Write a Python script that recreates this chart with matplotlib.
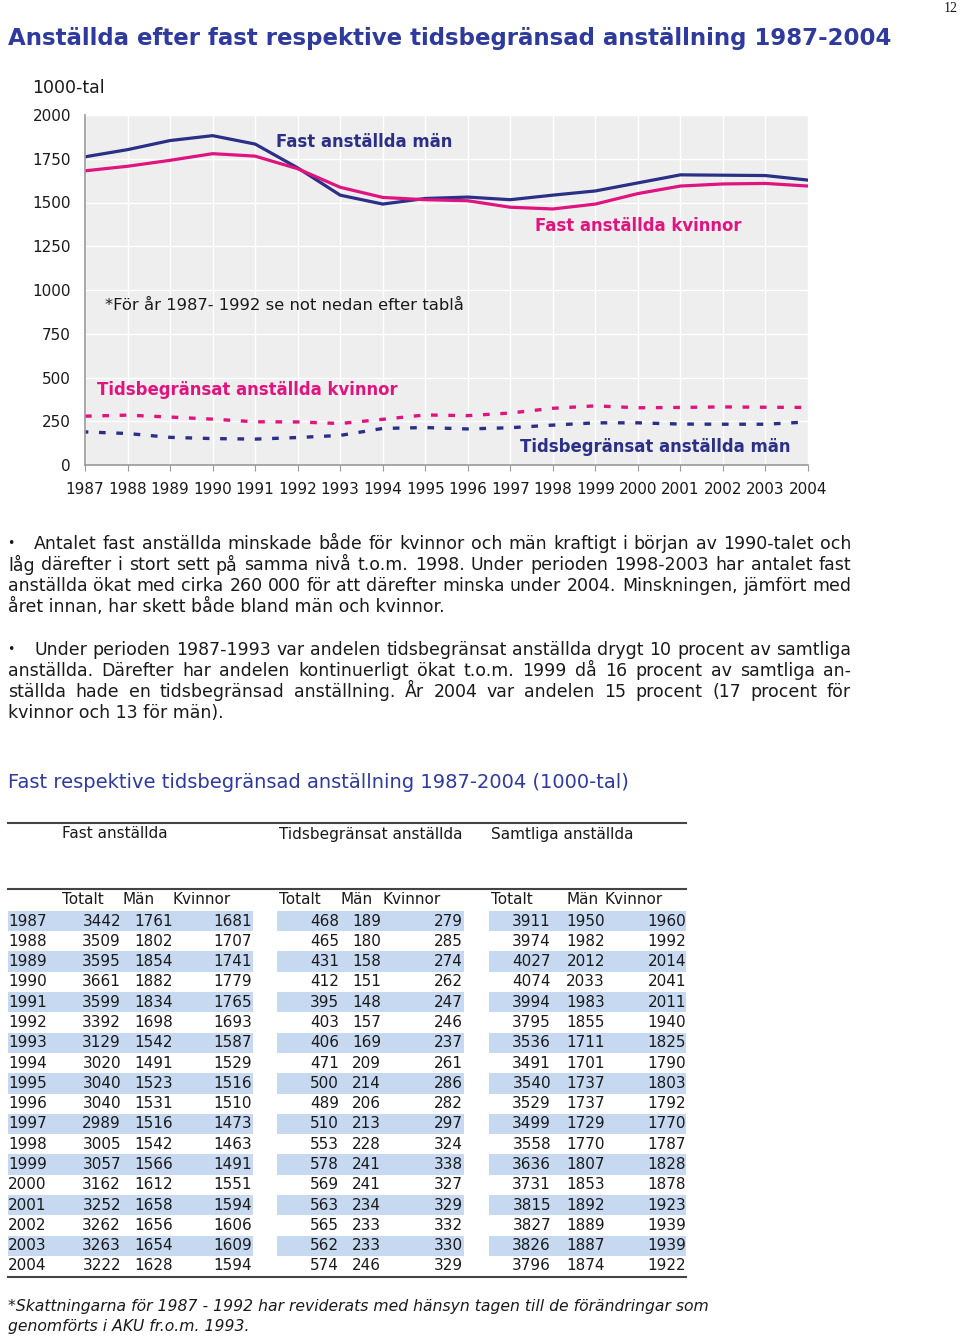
import numpy as np
import matplotlib
matplotlib.use('Agg')
import matplotlib.pyplot as plt
from matplotlib.patches import Rectangle
from matplotlib.lines import Line2D

W, H = 960, 1336

years = list(range(1987, 2005))
fast_tot = [3442, 3509, 3595, 3661, 3599, 3392, 3129, 3020, 3040, 3040, 2989, 3005, 3057, 3162, 3252, 3262, 3263, 3222]
fast_man = [1761, 1802, 1854, 1882, 1834, 1698, 1542, 1491, 1523, 1531, 1516, 1542, 1566, 1612, 1658, 1656, 1654, 1628]
fast_kv = [1681, 1707, 1741, 1779, 1765, 1693, 1587, 1529, 1516, 1510, 1473, 1463, 1491, 1551, 1594, 1606, 1609, 1594]
tids_tot = [468, 465, 431, 412, 395, 403, 406, 471, 500, 489, 510, 553, 578, 569, 563, 565, 562, 574]
tids_man = [189, 180, 158, 151, 148, 157, 169, 209, 214, 206, 213, 228, 241, 241, 234, 233, 233, 246]
tids_kv = [279, 285, 274, 262, 247, 246, 237, 261, 286, 282, 297, 324, 338, 327, 329, 332, 330, 329]
samt_tot = [3911, 3974, 4027, 4074, 3994, 3795, 3536, 3491, 3540, 3529, 3499, 3558, 3636, 3731, 3815, 3827, 3826, 3796]
samt_man = [1950, 1982, 2012, 2033, 1983, 1855, 1711, 1701, 1737, 1737, 1729, 1770, 1807, 1853, 1892, 1889, 1887, 1874]
samt_kv = [1960, 1992, 2014, 2041, 2011, 1940, 1825, 1790, 1803, 1792, 1770, 1787, 1828, 1878, 1923, 1939, 1939, 1922]

yticks = [0, 250, 500, 750, 1000, 1250, 1500, 1750, 2000]

para1 = ["Antalet fast anställda minskade både för kvinnor och män kraftigt i början av 1990-talet och",
         "låg därefter i stort sett på samma nivå t.o.m. 1998. Under perioden 1998-2003 har antalet fast",
         "anställda ökat med cirka 260 000 för att därefter minska under 2004. Minskningen, jämfört med",
         "året innan, har skett både bland män och kvinnor."]
para2 = ["Under perioden 1987-1993 var andelen tidsbegränsat anställda drygt 10 procent av samtliga",
         "anställda. Därefter har andelen kontinuerligt ökat t.o.m. 1999 då 16 procent av samtliga an-",
         "ställda hade en tidsbegränsad anställning. År 2004 var andelen 15 procent (17 procent för",
         "kvinnor och 13 för män)."]

NAVY = '#2b2f86'
PINK = '#e0147f'
TITLE = '#2e3a9c'
TXT = '#1a1a1a'

plt.rcParams['font.family'] = ['DejaVu Sans']

fig = plt.figure(figsize=(W / 100, H / 100), dpi=100)


def X(x):
    return x / W


def Y(y):
    return 1 - y / H


fig.text(X(958), Y(8), '12', ha='right', va='center', fontsize=10, family='Liberation Serif', color=TXT)
fig.text(X(8), Y(38), 'Anställda efter fast respektive tidsbegränsad anställning 1987-2004',
         ha='left', va='center', fontsize=16.5, fontweight='bold', color=TITLE)

# chart
ax = fig.add_axes([X(85), Y(465), 723 / W, 350 / H])
ax.set_facecolor('#eeeeee')
ax.plot(years, fast_man, color=NAVY, lw=2.3, solid_joinstyle='round')
ax.plot(years, fast_kv, color=PINK, lw=2.3, solid_joinstyle='round')
ax.plot(years, tids_kv, color=PINK, lw=2.4, linestyle=(0, (2, 3.2)))
ax.plot(years, tids_man, color=NAVY, lw=2.4, linestyle=(1, (2, 3.2)))
ax.set_xlim(1987, 2004)
ax.set_ylim(0, 2000)
ax.set_xticks(years)
ax.set_yticks(yticks)
ax.grid(True, color='white', lw=1)
ax.set_axisbelow(True)
for s in ['top', 'right']:
    ax.spines[s].set_visible(False)
for s in ['left', 'bottom']:
    ax.spines[s].set_color('#999999')
    ax.spines[s].set_linewidth(1.2)
ax.tick_params(axis='y', length=0, pad=10, labelsize=11, labelcolor=TXT)
ax.tick_params(axis='x', length=4, color='#999999', pad=8, labelsize=11, labelcolor=TXT)

lfs = 11.9
ax.text(1991.49, 1846, 'Fast anställda män', color=NAVY, fontsize=lfs, fontweight='bold', va='center')
ax.text(1997.58, 1366, 'Fast anställda kvinnor', color=PINK, fontsize=lfs, fontweight='bold', va='center')
ax.text(1987.28, 429, 'Tidsbegränsat anställda kvinnor', color=PINK, fontsize=lfs, fontweight='bold', va='center')
ax.text(1997.23, 103, 'Tidsbegränsat anställda män', color=NAVY, fontsize=lfs, fontweight='bold', va='center')
ax.text(1987.47, 914, '*För år 1987- 1992 se not nedan efter tablå', color=TXT, fontsize=11.8, va='center')
fig.text(X(32), Y(88), '1000-tal', ha='left', va='center', fontsize=12.5, color=TXT)

# body text
renderer = fig.canvas.get_renderer()
bfs = 12.5


def justify(line, y, x0, x1, fs=bfs):
    words = line.split(' ')
    ts = [fig.text(X(x0), Y(y), w, ha='left', va='center', fontsize=fs, color=TXT) for w in words]
    ws = [t.get_window_extent(renderer).width for t in ts]
    gap = (x1 - x0 - sum(ws)) / (len(words) - 1)
    x = x0
    for t, w in zip(ts, ws):
        t.set_x(X(x))
        x += w + gap


for paragraph, y0 in [(para1, 544), (para2, 650)]:
    fig.text(X(7), Y(y0), '•', ha='left', va='center', fontsize=9, color=TXT)
    for i, line in enumerate(paragraph):
        y = y0 + i * 21
        x0 = 34 if i == 0 else 8
        if i < len(paragraph) - 1:
            justify(line, y, x0, 851)
        else:
            fig.text(X(x0), Y(y), line, ha='left', va='center', fontsize=bfs, color=TXT)

# table
fig.text(X(8), Y(782), 'Fast respektive tidsbegränsad anställning 1987-2004 (1000-tal)',
         ha='left', va='center', fontsize=14, color=TITLE)


def hline(y, lw=1.5):
    fig.add_artist(Line2D([X(8), X(686)], [Y(y), Y(y)], color='#444444', lw=lw))


hline(823)
hline(889)
hline(1277)

tfs = 11
for lbl, x in [('Fast anställda', 62), ('Tidsbegränsat anställda', 279), ('Samtliga anställda', 491)]:
    fig.text(X(x), Y(834), lbl, ha='left', va='center', fontsize=tfs, color=TXT)
for lbl, x in [('Totalt', 62), ('Män', 122), ('Kvinnor', 173),
               ('Totalt', 279), ('Män', 340), ('Kvinnor', 382),
               ('Totalt', 491), ('Män', 566), ('Kvinnor', 605)]:
    fig.text(X(x), Y(900), lbl, ha='left', va='center', fontsize=tfs, color=TXT)

cols = [(fast_tot, 121), (fast_man, 173), (fast_kv, 252),
        (tids_tot, 339), (tids_man, 381), (tids_kv, 463),
        (samt_tot, 551), (samt_man, 605), (samt_kv, 686)]
bands = [(8, 253), (277, 464), (489, 686)]
step = (1266 - 921) / 17
for i, yr in enumerate(years):
    y = 921 + i * step
    if i % 2 == 0:
        for a, b in bands:
            fig.add_artist(Rectangle((X(a), Y(y + step / 2)), (b - a) / W, step / H,
                                     facecolor='#c6d9f1', edgecolor='none', zorder=0))
    fig.text(X(8), Y(y), str(yr), ha='left', va='center', fontsize=tfs, color=TXT)
    for vals, xr in cols:
        fig.text(X(xr), Y(y), str(vals[i]), ha='right', va='center', fontsize=tfs, color=TXT)

fig.text(X(8), Y(1306), '*Skattningarna för 1987 - 1992 har reviderats med hänsyn tagen till de förändringar som',
         ha='left', va='center', fontsize=11.25, style='italic', color=TXT)
fig.text(X(8), Y(1326), 'genomförts i AKU fr.o.m. 1993.',
         ha='left', va='center', fontsize=11.25, style='italic', color=TXT)

fig.savefig('out.png', dpi=100)
